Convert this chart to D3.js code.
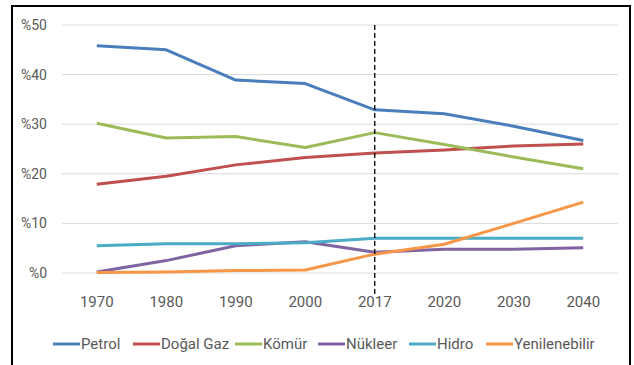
<!DOCTYPE html>
<html>
<head>
<meta charset="utf-8">
<script src="https://cdn.jsdelivr.net/npm/d3@7"></script>
<style>
  body { margin: 0; background: #fff; }
  svg text { font-family: "Liberation Sans Narrow", "Roboto", sans-serif; fill: #595959; }
</style>
</head>
<body>
<svg id="chart" width="634" height="365"></svg>
<script>
const years = ['1970', '1980', '1990', '2000', '2017', '2020', '2030', '2040'];
const yTicks = [0, 10, 20, 30, 40, 50];
const seriesNames = ['Petrol', 'Doğal Gaz', 'Kömür', 'Nükleer', 'Hidro', 'Yenilenebilir'];
const seriesColors = ['#4a7ebb', '#c0504d', '#9bbb59', '#8064a2', '#4bacc6', '#f79646'];
const petrol = [45.8, 45.0, 38.9, 38.2, 32.9, 32.1, 29.6, 26.7];
const dogalGaz = [17.9, 19.5, 21.8, 23.3, 24.2, 24.8, 25.6, 26.0];
const komur = [30.2, 27.2, 27.5, 25.3, 28.3, 25.9, 23.4, 21.0];
const nukleer = [0.2, 2.5, 5.5, 6.3, 4.2, 4.8, 4.8, 5.1];
const hidro = [5.5, 5.9, 5.9, 6.1, 7.0, 7.0, 7.0, 7.0];
const yenilenebilir = [0.1, 0.2, 0.5, 0.6, 3.8, 5.8, 10.0, 14.3];
const allSeries = [petrol, dogalGaz, komur, nukleer, hidro, yenilenebilir];
const markerYear = '2017';

const svg = d3.select('#chart');

// outer frame
svg.append('rect')
  .attr('x', 12).attr('y', 6).attr('width', 618).attr('height', 370)
  .attr('fill', 'none').attr('stroke', '#000').attr('stroke-width', 2);

const x = d3.scalePoint().domain(years).range([62, 618]).padding(0.5);
const y = d3.scaleLinear().domain([0, 50]).range([273, 25]);

// gridlines
svg.append('g')
  .selectAll('line')
  .data(yTicks)
  .enter()
  .append('line')
  .attr('x1', 62).attr('x2', 618)
  .attr('y1', (d) => y(d)).attr('y2', (d) => y(d))
  .attr('stroke', '#d9d9d9').attr('stroke-width', 1);

// y labels
svg.append('g')
  .selectAll('text')
  .data(yTicks)
  .enter()
  .append('text')
  .attr('x', 47)
  .attr('y', (d) => y(d) + 5)
  .attr('text-anchor', 'end')
  .attr('font-size', 14)
  .text((d) => `%${d}`);

// x labels
svg.append('g')
  .selectAll('text')
  .data(years)
  .enter()
  .append('text')
  .attr('x', (d) => x(d))
  .attr('y', 307)
  .attr('text-anchor', 'middle')
  .attr('font-size', 15)
  .text((d) => d);

// lines
const line = d3.line()
  .x((d, i) => x(years[i]))
  .y((d) => y(d));

svg.append('g')
  .selectAll('path')
  .data(allSeries)
  .enter()
  .append('path')
  .attr('d', (d) => line(d))
  .attr('fill', 'none')
  .attr('stroke', (d, i) => seriesColors[i])
  .attr('stroke-width', 3)
  .attr('stroke-linejoin', 'round');

// dashed marker at 2017
svg.append('line')
  .attr('x1', x(markerYear)).attr('x2', x(markerYear))
  .attr('y1', y(50)).attr('y2', 296)
  .attr('stroke', '#000').attr('stroke-width', 1.3)
  .attr('stroke-dasharray', '5,3');

// legend
const legendX = [53, 133, 235, 318, 409, 486];
const legend = svg.append('g')
  .selectAll('g')
  .data(seriesNames)
  .enter()
  .append('g')
  .attr('transform', (d, i) => `translate(${legendX[i]}, 344)`);

legend.append('line')
  .attr('x1', 0).attr('x2', 27)
  .attr('stroke', (d, i) => seriesColors[i])
  .attr('stroke-width', 3);

legend.append('text')
  .attr('x', 28)
  .attr('y', 5)
  .attr('font-size', 15)
  .text((d) => d);
</script>
</body>
</html>
